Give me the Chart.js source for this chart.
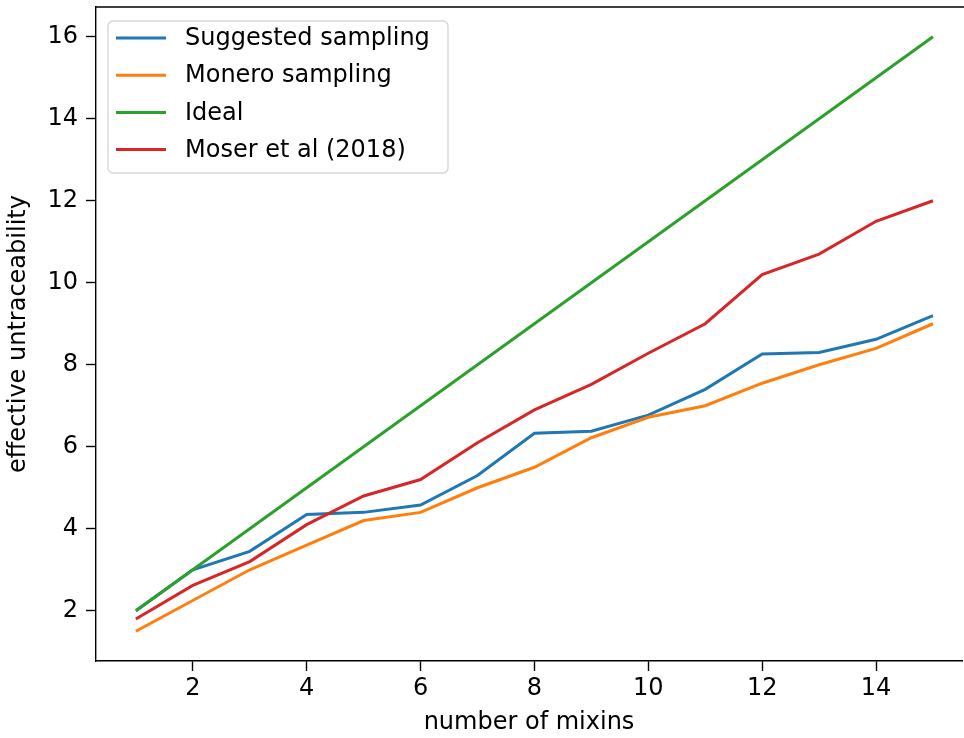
<!DOCTYPE html>
<html>
<head>
<meta charset="utf-8">
<title>effective untraceability</title>
<script src="https://cdn.jsdelivr.net/npm/chart.js@4"></script>
<style>
  html, body { margin: 0; padding: 0; background: #fff; overflow: hidden; }
  #wrap { width: 964px; height: 738px; position: relative; }
</style>
</head>
<body>
<div id="wrap"><canvas id="chart"></canvas></div>
<script>
// data
const mixins = [1, 2, 3, 4, 5, 6, 7, 8, 9, 10, 11, 12, 13, 14, 15];
const suggested = [2.0, 3.0, 3.45, 4.35, 4.4, 4.58, 5.3, 6.33, 6.38, 6.77, 7.4, 8.26, 8.3, 8.62, 9.2];
const monero = [1.5, 2.25, 3.0, 3.6, 4.2, 4.4, 5.0, 5.5, 6.22, 6.72, 7.0, 7.55, 8.0, 8.4, 9.0];
const ideal = [2, 3, 4, 5, 6, 7, 8, 9, 10, 11, 12, 13, 14, 15, 16];
const moser = [1.8, 2.62, 3.2, 4.1, 4.8, 5.2, 6.1, 6.9, 7.52, 8.28, 9.0, 10.2, 10.7, 11.5, 12.0];
const xTicks = [2, 4, 6, 8, 10, 12, 14];
const yTicks = [2, 4, 6, 8, 10, 12, 14, 16];

const seriesNames = ['Suggested sampling', 'Monero sampling', 'Ideal', 'Moser et al (2018)'];
const seriesColors = ['#1f77b4', '#ff7f0e', '#2ca02c', '#d62728'];
const FONT = '"DejaVu Sans", sans-serif';
const FS = 24;

function toPoints(values) {
    return mixins.map((m, i) => ({ x: m, y: values[i] }));
}

// top spine + matplotlib style legend
const framePlugin = {
    id: 'frame',
    afterDraw(chart) {
        const ctx = chart.ctx;
        const a = chart.chartArea;
        ctx.save();
        ctx.strokeStyle = '#000';
        ctx.lineWidth = 1.4;
        ctx.beginPath();
        ctx.moveTo(a.left, a.top);
        ctx.lineTo(chart.width, a.top);
        ctx.stroke();

        // legend box
        const bx = 108, by = 21, bw = 340, bh = 152, r = 5;
        ctx.beginPath();
        ctx.moveTo(bx + r, by);
        ctx.arcTo(bx + bw, by, bx + bw, by + bh, r);
        ctx.arcTo(bx + bw, by + bh, bx, by + bh, r);
        ctx.arcTo(bx, by + bh, bx, by, r);
        ctx.arcTo(bx, by, bx + bw, by, r);
        ctx.closePath();
        ctx.fillStyle = 'rgba(255,255,255,0.8)';
        ctx.fill();
        ctx.strokeStyle = '#d6d6d6';
        ctx.lineWidth = 1.4;
        ctx.stroke();

        ctx.font = FS + 'px ' + FONT;
        ctx.textBaseline = 'middle';
        ctx.textAlign = 'left';
        seriesNames.forEach((name, i) => {
            const y = 38 + i * 37.2;
            ctx.strokeStyle = seriesColors[i];
            ctx.lineWidth = 3;
            ctx.beginPath();
            ctx.moveTo(116, y);
            ctx.lineTo(166, y);
            ctx.stroke();
            ctx.fillStyle = '#000';
            ctx.fillText(name, 185, y + 1);
        });
        ctx.restore();
    }
};

const ctx = document.getElementById('chart').getContext('2d');
const chart = new Chart(ctx, {
    type: 'line',
    data: {
        datasets: [suggested, monero, ideal, moser].map((vals, i) => ({
            label: seriesNames[i],
            data: toPoints(vals),
            borderColor: seriesColors[i],
            backgroundColor: seriesColors[i],
            borderWidth: 3,
            pointRadius: 0,
            tension: 0,
            fill: false,
            order: 3 - i
        }))
    },
    options: {
        responsive: true,
        maintainAspectRatio: false,
        animation: false,
        events: [],
        layout: { padding: { top: 7, right: 2, left: 0, bottom: 0 } },
        plugins: {
            legend: { display: false },
            tooltip: { enabled: false }
        },
        scales: {
            x: {
                type: 'linear',
                min: 0.3,
                max: 15.51,
                afterBuildTicks: (scale) => { scale.ticks = xTicks.map(v => ({ value: v })); },
                afterFit: (scale) => {
                    scale.height = 77;
                    scale.paddingLeft = 0;
                    scale.paddingRight = 0;
                },
                grid: { drawOnChartArea: false, drawTicks: true, tickLength: 10, tickWidth: 1.4, color: '#000' },
                border: { display: true, color: '#000', width: 1.4 },
                ticks: { color: '#000', font: { family: FONT, size: FS }, padding: 3, maxRotation: 0 },
                title: { display: true, text: 'number of mixins', color: '#000', font: { family: FONT, size: FS }, padding: { top: 0, bottom: 1 } }
            },
            y: {
                type: 'linear',
                min: 0.775,
                max: 16.725,
                afterBuildTicks: (scale) => { scale.ticks = yTicks.map(v => ({ value: v })); },
                afterFit: (scale) => {
                    scale.width = 96;
                    scale.paddingTop = 0;
                    scale.paddingBottom = 0;
                },
                grid: { drawOnChartArea: false, drawTicks: true, tickLength: 10, tickWidth: 1.4, color: '#000' },
                border: { display: true, color: '#000', width: 1.4 },
                ticks: { color: '#000', font: { family: FONT, size: FS }, padding: 8 },
                title: { display: true, text: 'effective untraceability', color: '#000', font: { family: FONT, size: FS }, padding: { top: 4, bottom: 0 } }
            }
        }
    },
    plugins: [framePlugin]
});
</script>
</body>
</html>
